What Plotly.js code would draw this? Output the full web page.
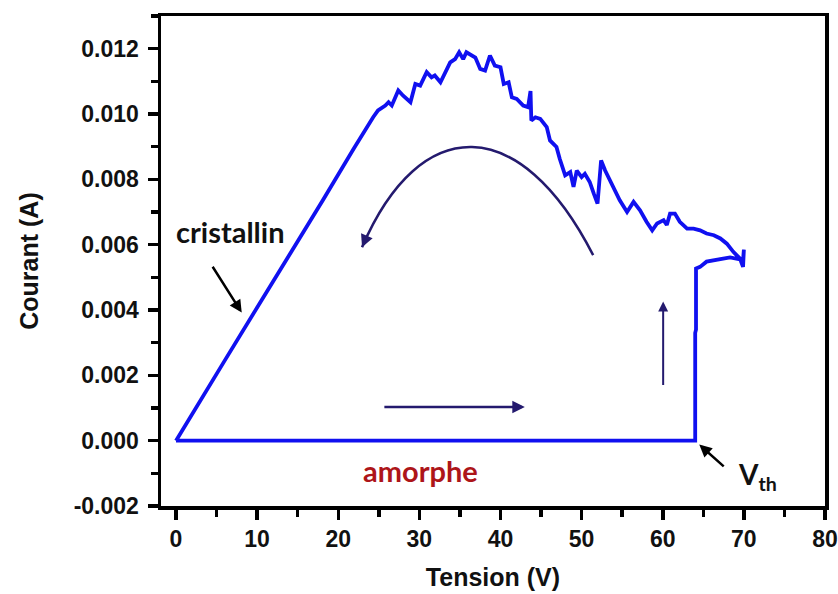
<!DOCTYPE html>
<html>
<head>
<meta charset="utf-8">
<script src="https://cdn.plot.ly/plotly-3.0.1.min.js"></script>
<style>html,body{margin:0;padding:0;background:#fff;}#chart{width:838px;height:594px;}</style>
</head>
<body>
<div id="chart"></div>
<script>
// Tension (V) — amorphous branch up to Vth, switching, then crystalline return sweep
const tension = [0, 64.0, 64.0, 64.1, 64.1, 64.6, 65.4, 66.3, 67.1, 68.3, 69.1, 69.9, 70.0, 69.9,
  69.5, 68.7, 67.9, 67.1, 66.3, 65.4, 64.6, 63.8, 63.0, 62.1, 61.5, 60.9, 60.5, 60.1, 59.3, 58.7,
  58.0, 57.2, 56.4, 55.6, 54.7, 54.1, 53.5, 52.9, 52.4, 51.96, 51.5, 51.0, 50.4, 50.0, 49.4, 49.0,
  48.6, 47.97, 47.3, 46.9, 46.1, 45.7, 44.9, 44.3, 43.8, 43.7, 43.4, 42.8, 42.0, 41.4, 41.0, 40.4,
  40.0, 39.3, 38.7, 38.1, 37.5, 36.9, 35.8, 35.4, 34.9, 34.4, 33.8, 33.2, 32.6, 31.9, 31.5, 30.9,
  30.1, 29.5, 28.9, 28.0, 27.4, 26.6, 26.2, 25.8, 24.9, 24.3, 21.9, 18.1, 12.0, 6.0, 0];
// Courant (A)
const courant = [0, 0, 0.0033, 0.0034, 0.00527, 0.00532, 0.00548, 0.00553, 0.00556, 0.00561, 0.00556, 0.00553, 0.00585, 0.00532,
  0.00558, 0.00578, 0.00603, 0.00619, 0.00629, 0.00634, 0.00644, 0.00649, 0.00649, 0.0067, 0.00695, 0.00695, 0.0066, 0.00675, 0.00665, 0.00644,
  0.0067, 0.00705, 0.00731, 0.0070, 0.00736, 0.00766, 0.00792, 0.00827, 0.00858, 0.00726, 0.00756, 0.00792, 0.00817, 0.00807, 0.00827, 0.00777,
  0.00822, 0.00812, 0.00863, 0.00899, 0.00919, 0.0096, 0.00985, 0.0099, 0.0098, 0.0107, 0.01021, 0.01026, 0.01046, 0.01051, 0.01097, 0.01092,
  0.01143, 0.01148, 0.01179, 0.01133, 0.01138, 0.01173, 0.01189, 0.01168, 0.01189, 0.01168, 0.01158, 0.01128, 0.01097, 0.01118, 0.01112, 0.01128,
  0.01087, 0.01092, 0.01036, 0.01056, 0.01072, 0.01026, 0.01036, 0.01026, 0.01011, 0.0099, 0.00894, 0.00736, 0.0049, 0.00245, 0];

const xTickVals = [0, 10, 20, 30, 40, 50, 60, 70, 80];
const xTickText = ['0', '10', '20', '30', '40', '50', '60', '70', '80'];
const yTickVals = [-0.002, 0, 0.002, 0.004, 0.006, 0.008, 0.010, 0.012];
const yTickText = ['-0.002', '0.000', '0.002', '0.004', '0.006', '0.008', '0.010', '0.012'];

const navy = '#241a6e';
const tickFont = {family: 'Liberation Sans, Arial, sans-serif', size: 23, color: '#111', weight: 'bold'};
const titleFont = {family: 'Liberation Sans, Arial, sans-serif', size: 25, color: '#111', weight: 'bold'};
const noteFont = {family: 'Lato, sans-serif', size: 29, color: '#111', weight: 'bold'};

const trace = {
  x: tension, y: courant, type: 'scatter', mode: 'lines',
  line: {color: '#1010f0', width: 3.8},
  hoverinfo: 'skip', showlegend: false
};

const layout = {
  width: 838, height: 594,
  margin: {l: 161, r: 13, t: 16, b: 88},
  paper_bgcolor: '#ffffff', plot_bgcolor: '#ffffff',
  showlegend: false,
  xaxis: {
    range: [-1.85, 80], tickvals: xTickVals, ticktext: xTickText,
    showgrid: false, zeroline: false,
    showline: true, mirror: true, linecolor: '#000', linewidth: 3.5,
    ticks: 'outside', ticklen: 10, tickwidth: 3.5, tickcolor: '#000',
    minor: {dtick: 5, tick0: 0, ticks: 'outside', ticklen: 7, tickwidth: 3.5, tickcolor: '#000', showgrid: false},
    tickfont: tickFont, ticklabelstandoff: 0,
    title: {text: 'Tension (V)', font: titleFont, standoff: 18}
  },
  yaxis: {
    range: [-0.002, 0.013], tickvals: yTickVals, ticktext: yTickText,
    showgrid: false, zeroline: false,
    showline: true, mirror: true, linecolor: '#000', linewidth: 3.5,
    ticks: 'outside', ticklen: 10, tickwidth: 3.5, tickcolor: '#000',
    minor: {dtick: 0.001, tick0: 0, ticks: 'outside', ticklen: 7, tickwidth: 3.5, tickcolor: '#000', showgrid: false},
    tickfont: tickFont, ticklabelstandoff: 4,
    title: {text: 'Courant (A)', font: titleFont, standoff: 29}
  },
  shapes: [
    {type: 'path', xref: 'x', yref: 'y',
     path: 'M 22.93,0.00592 C 30.09,0.01005 42.42,0.01005 51.42,0.00568',
     line: {color: navy, width: 2.5}}
  ],
  annotations: [
    // arc arrowhead
    {x: 22.93, y: 0.00592, xref: 'x', yref: 'y', text: '', showarrow: true,
     ax: 5, ay: -12, arrowhead: 2, arrowsize: 1, arrowwidth: 2.5, arrowcolor: navy, standoff: 0},
    // horizontal arrow (amorphous sweep)
    {x: 43.0, y: 0.00103, xref: 'x', yref: 'y', axref: 'x', ayref: 'y', ax: 25.5, ay: 0.00103,
     text: '', showarrow: true, arrowhead: 2, arrowsize: 1, arrowwidth: 2.5, arrowcolor: navy, standoff: 0},
    // vertical arrow (switching)
    {x: 60.05, y: 0.00426, xref: 'x', yref: 'y', axref: 'x', ayref: 'y', ax: 60.05, ay: 0.00166,
     text: '', showarrow: true, arrowhead: 2, arrowsize: 1, arrowwidth: 2, arrowcolor: navy, standoff: 0},
    // cristallin pointer
    {x: 8.1, y: 0.00392, xref: 'x', yref: 'y', axref: 'x', ayref: 'y', ax: 4.4, ay: 0.00537,
     text: '', showarrow: true, arrowhead: 2, arrowsize: 1, arrowwidth: 2.5, arrowcolor: '#000', standoff: 0},
    // Vth pointer
    {x: 64.5, y: -0.00012, xref: 'x', yref: 'y', axref: 'x', ayref: 'y', ax: 67.7, ay: -0.00083,
     text: '', showarrow: true, arrowhead: 2, arrowsize: 1, arrowwidth: 2.5, arrowcolor: '#000', standoff: 0},
    {x: 6.66, y: 0.00641, xref: 'x', yref: 'y', text: 'cristallin', showarrow: false,
     font: noteFont, xanchor: 'center', yanchor: 'middle'},
    {x: 30.15, y: -0.00092, xref: 'x', yref: 'y', text: 'amorphe', showarrow: false,
     font: Object.assign({}, noteFont, {color: '#ad1519'}), xanchor: 'center', yanchor: 'middle'},
    {x: 69.05, y: -0.00107, xref: 'x', yref: 'y', text: 'V<sub>th</sub>', showarrow: false,
     font: Object.assign({}, noteFont, {size: 28}), xanchor: 'left', yanchor: 'middle'}
  ]
};

Plotly.newPlot('chart', [trace], layout, {displayModeBar: false, staticPlot: true});
</script>
</body>
</html>
